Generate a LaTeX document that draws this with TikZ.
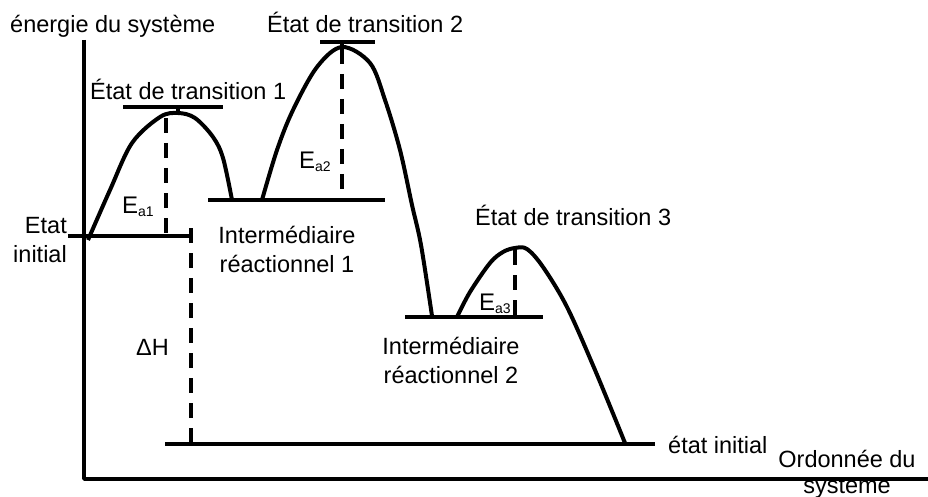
\documentclass[tikz,border=0pt]{standalone}
\usepackage{fontspec}
\setmainfont{Liberation Sans}
\begin{document}
\begin{tikzpicture}[x=1pt, y=-1pt, line cap=butt, line join=round]

% --- Global TikZ Styles ---
\tikzset{
    axisline/.style={
        draw=black,
        line width=3.6pt
    },
    levelline/.style={
        draw=black,
        line width=3.2pt
    },
    profile/.style={
        draw=black,
        line width=4pt
    },
    barrier/.style={
        draw=black,
        dash pattern=on 15pt off 10pt,
        line width=3.4pt
    },
    lbl/.style={
        font=\fontsize{23.5}{29}\selectfont,
        inner sep=0pt
    },
    sublbl/.style={
        font=\fontsize{24}{24}\selectfont,
        inner sep=0pt,
        anchor=base west
    }
}

\useasboundingbox (0,0) rectangle (928,497);

% --- Niveaux d'energie ---
\pgfmathsetmacro{\yInit}{236}
\pgfmathsetmacro{\yTSa}{107}
\pgfmathsetmacro{\yTSb}{42}
\pgfmathsetmacro{\yIa}{200}
\pgfmathsetmacro{\yIb}{317}
\pgfmathsetmacro{\yFin}{444}

% --- Axes ---
\draw[axisline] (84,40) -- (84,479) -- (928,479);

% --- Paliers horizontaux ---
\draw[levelline] (68,\yInit) -- (193,\yInit);
\draw[levelline] (123,\yTSa) -- (223,\yTSa);
\draw[levelline] (178,\yTSa) -- (178,113);
\draw[levelline] (320,\yTSb) -- (375,\yTSb);
\draw[levelline] (342,\yTSb) -- (342,47);
\draw[levelline] (208,\yIa) -- (385,\yIa);
\draw[levelline] (405,\yIb) -- (543,\yIb);
\draw[levelline] (165,\yFin) -- (655,\yFin);

% --- Profil reactionnel ---
\draw[profile] plot[smooth, tension=0.55] coordinates {
    (88,240) (110,190) (132,143) (160,117) (178,113) (195,118)
    (213,137) (223,158) (232,200)};
\draw[profile] plot[smooth, tension=0.55] coordinates {
    (262,200) (277,150) (293,110) (317,67) (342,47) (370,63)
    (385,100) (400,150) (412,205) (421,245) (432,316)};
\draw[profile] plot[smooth, tension=0.55] coordinates {
    (457,317) (470,292) (490,263) (503,252) (515,248) (527,249)
    (543,267) (567,307) (595,370) (625,443)};

% --- Energies d'activation et enthalpie ---
\draw[barrier] (166,118) -- (166,\yInit);
\draw[barrier] (342,49) -- (342,\yIa);
\draw[barrier] (515,250) -- (515,\yIb);
\draw[barrier] (191,228) -- (191,\yFin);

% --- Labels (base = ligne du bas pour les textes sur deux lignes) ---
\node[lbl, anchor=base west] (yaxis) at (10,33) {énergie du système};
\node[lbl, anchor=base west] (ts1) at (90,100) {État de transition 1};
\node[lbl, anchor=base west] (ts2) at (267,33) {État de transition 2};
\node[lbl, anchor=base west] (ts3) at (475,225) {État de transition 3};

\node[lbl, anchor=base east, align=right] (init) at (67,262) {Etat\\initial};
\node[lbl, anchor=base, align=center] (int1) at (287,272) {Intermédiaire\\réactionnel 1};
\node[lbl, anchor=base, align=center] (int2) at (451,383) {Intermédiaire\\réactionnel 2};
\node[lbl, anchor=base west] (final) at (668,453) {état initial};
\node[lbl, anchor=base, align=center] (xaxis) at (847,493) {Ordonnée du\\[-3pt]systeme};

\node[lbl, anchor=base west] (dH) at (136,355) {ΔH};
\node[sublbl] (ea1) at (122,213) {E\raisebox{-3pt}{\fontsize{14}{14}\selectfont a1}};
\node[sublbl] (ea2) at (299,168) {E\raisebox{-3pt}{\fontsize{14}{14}\selectfont a2}};
\node[sublbl] (ea3) at (479,310) {E\raisebox{-3pt}{\fontsize{14}{14}\selectfont a3}};

\end{tikzpicture}
\end{document}
